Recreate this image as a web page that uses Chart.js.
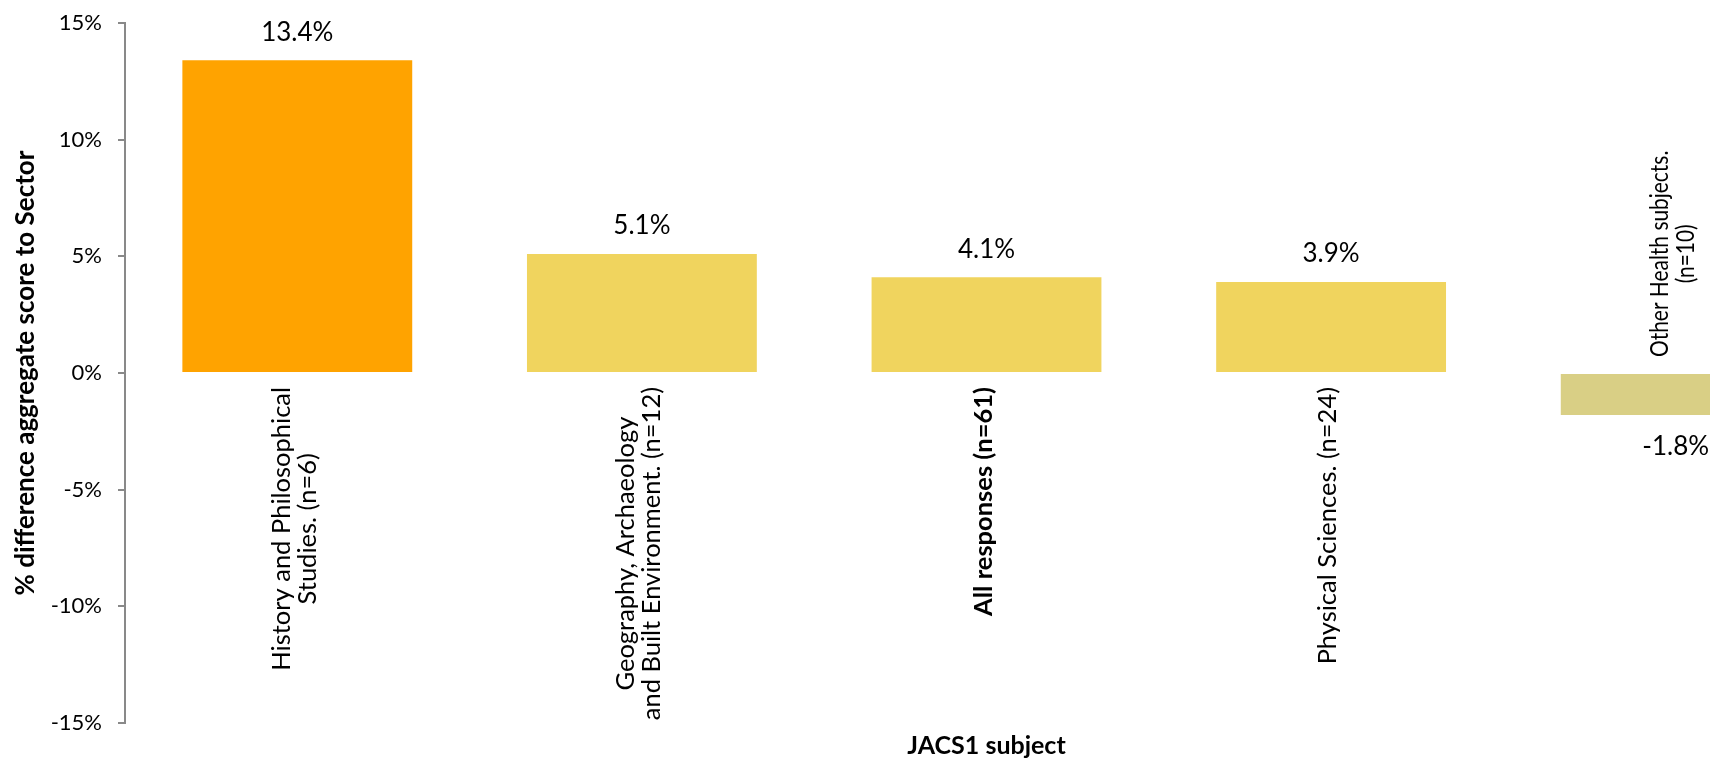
<!DOCTYPE html>
<html>
<head>
<meta charset="utf-8">
<script src="https://cdn.jsdelivr.net/npm/chart.js@4"></script>
<style>
  html, body { margin: 0; padding: 0; background: #fff; overflow: hidden; }
  #wrap { width: 1848px; height: 758px; }
</style>
</head>
<body>
<div id="wrap"><canvas id="myChart" width="1848" height="758"></canvas></div>
<script>
// chart data
var categories = [
  ["History and Philosophical", "Studies. (n=6)"],
  ["Geography, Archaeology", "and Built Environment. (n=12)"],
  ["All responses (n=61)"],
  ["Physical Sciences. (n=24)"],
  ["Other Health subjects.", "(n=10)"]
];
var values = [13.4, 5.1, 4.1, 3.9, -1.8];
var barColors = ["#FFA300", "#F0D45E", "#F0D45E", "#F0D45E", "#D9CF85"];
var yMin = -15, yMax = 15, yStep = 5;

var FONT = "Lato, 'Open Sans', sans-serif";

// value labels above / below the bars
var valueLabels = {
  id: 'valueLabels',
  afterDatasetsDraw: function(chart) {
    var ctx = chart.ctx;
    var meta = chart.getDatasetMeta(0);
    ctx.save();
    ctx.font = "26px " + FONT;
    ctx.fillStyle = "#000";
    ctx.textAlign = "center";
    ctx.textBaseline = "middle";
    meta.data.forEach(function(bar, i) {
      var v = values[i];
      var y = v >= 0 ? bar.y - 28 : bar.y + 32;
      ctx.fillText(v.toFixed(1) + "%", bar.x, y);
    });
    ctx.restore();
  }
};

// rotated category names, on the side of the zero line away from the bar
var categoryLabels = {
  id: 'categoryLabels',
  afterDatasetsDraw: function(chart) {
    var ctx = chart.ctx;
    var meta = chart.getDatasetMeta(0);
    var zero = chart.scales.y.getPixelForValue(0);
    var lh = 26;
    ctx.save();
    ctx.fillStyle = "#000";
    ctx.textAlign = "center";
    ctx.textBaseline = "middle";
    meta.data.forEach(function(bar, i) {
      var lines = categories[i];
      var bold = lines[0].indexOf("All responses") === 0;
      // the label above the negative bar is set narrower in the original
      var squeeze = values[i] < 0 ? 0.82 : 1;
      ctx.font = (bold ? "bold " : "") + "25.5px " + FONT;
      var maxW = 0;
      lines.forEach(function(l) { maxW = Math.max(maxW, ctx.measureText(l).width * squeeze); });
      var cy = values[i] >= 0 ? zero + 14 + maxW / 2 : zero - 16 - maxW / 2;
      ctx.save();
      ctx.translate(bar.x - 3, cy);
      ctx.rotate(-Math.PI / 2);
      ctx.scale(squeeze, 1);
      lines.forEach(function(l, k) {
        ctx.fillText(l, 0, (k - (lines.length - 1) / 2) * lh);
      });
      ctx.restore();
    });
    ctx.restore();
  }
};

var ctx = document.getElementById("myChart").getContext('2d');
var myChart = new Chart(ctx, {
  type: 'bar',
  data: {
    labels: categories,
    datasets: [{
      data: values,
      backgroundColor: barColors,
      borderWidth: 0,
      categoryPercentage: 1,
      barPercentage: 0.667
    }]
  },
  options: {
    responsive: false,
    animation: false,
    layout: { padding: { top: 23, left: 0, right: 0, bottom: 0 } },
    plugins: {
      legend: { display: false },
      tooltip: { enabled: false }
    },
    scales: {
      x: {
        grid: { display: false },
        border: { display: false },
        ticks: { display: false },
        title: {
          display: true,
          text: "JACS1 subject",
          color: "#000",
          font: { family: FONT, size: 25, weight: 'bold', lineHeight: 1 },
          padding: { top: 0, bottom: 0 }
        },
        afterFit: function(scale) { scale.height = 35; }
      },
      y: {
        min: yMin,
        max: yMax,
        grid: { drawOnChartArea: false, drawTicks: true, tickLength: 7, color: "#898989", lineWidth: 2 },
        border: { color: "#898989", width: 2 },
        ticks: {
          stepSize: yStep,
          padding: 16,
          color: "#000",
          font: { family: FONT, size: 22 },
          callback: function(v) { return v + "%"; }
        },
        title: {
          display: true,
          text: "% difference aggregate score to Sector",
          color: "#000",
          font: { family: FONT, size: 26, weight: 'bold' },
          padding: { top: 10, bottom: 0 }
        },
        afterFit: function(scale) {
          scale.width = 125;
          scale.paddingTop = 0;
          scale.paddingBottom = 0;
        }
      }
    }
  },
  plugins: [valueLabels, categoryLabels]
});
</script>
</body>
</html>
